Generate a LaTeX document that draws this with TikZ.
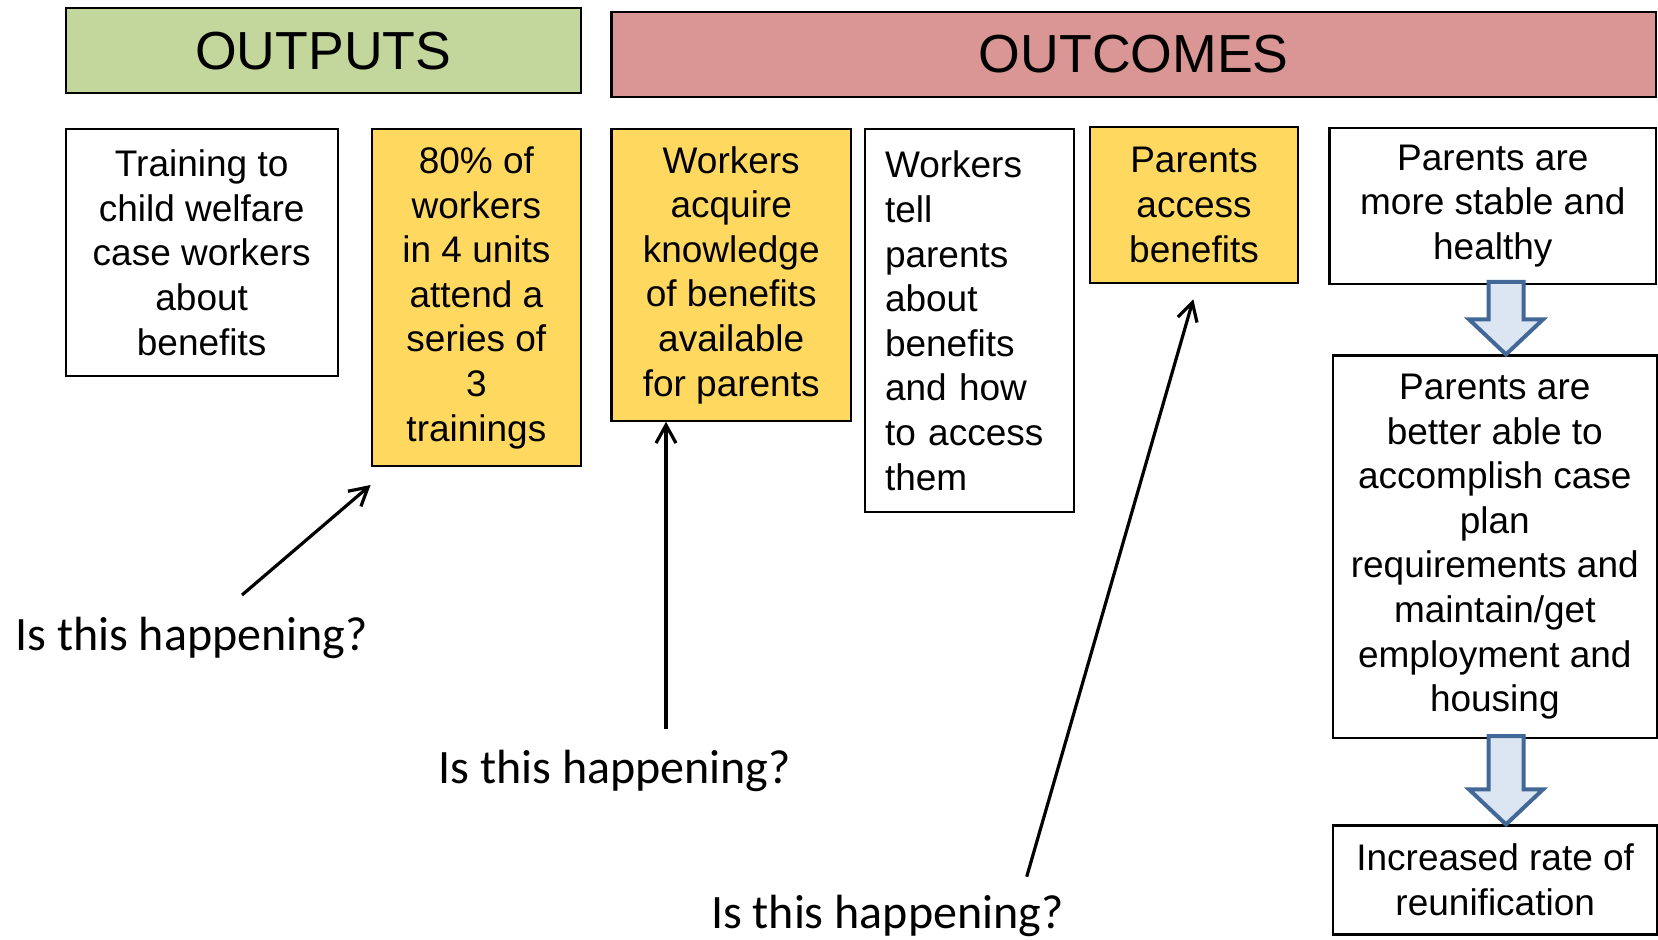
\documentclass[tikz,border=0pt]{standalone}
\usepackage{fontspec}
\setmainfont{Liberation Sans}
\newfontfamily\qfont{Carlito}
\usetikzlibrary{arrows.meta}

\definecolor{outputgreen}{RGB}{195,214,155}
\definecolor{outcomered}{RGB}{217,150,149}
\definecolor{gold}{RGB}{255,216,96}
\definecolor{arrowfill}{RGB}{220,230,242}
\definecolor{arrowline}{RGB}{65,104,150}

\begin{document}
\begin{tikzpicture} [
                x=0.5pt, y=-0.5pt,
                heading/.style={draw,line width=1.1pt,inner sep=0pt,minimum height=42.5pt,
                    font=\fontsize{26.8}{30}\selectfont},
                box/.style={draw,line width=1.1pt,inner sep=0pt,align=center,
                    font=\fontsize{18.5}{22.3}\selectfont},
                goal/.style={box,fill=gold},
                question/.style={inner sep=0pt,anchor=base west,font=\qfont\fontsize{24}{28}\selectfont},
                link/.style={line width=1.6pt,-{Straight Barb[length=9pt,width=10pt,line width=1.6pt]}},
                bigarrow/.style={draw=arrowline,fill=arrowfill,line width=2pt,line join=miter},
            ]
            \useasboundingbox (0,0) rectangle (1658,940);
            % headings
            \node[heading,fill=outputgreen,minimum width=257.5pt] (outputs) at (323.2,50.8) {OUTPUTS};
            \node[heading,fill=outcomered,minimum width=522.3pt] (outcomes) at (1133.7,54.2) {OUTCOMES};
            % boxes
            \node[box,minimum width=136pt,minimum height=123.4pt] (training) at (201.7,252.7)
                {Training to\\child welfare\\case workers\\about\\benefits};
            \node[goal,minimum width=104.4pt,minimum height=168.4pt] (attend) at (476.4,297.7)
                {80\% of\\workers\\in 4 units\\attend a\\series of\\3\\trainings};
            \node[goal,minimum width=119.8pt,minimum height=145.7pt] (acquire) at (731.2,275)
                {Workers\\acquire\\knowledge\\of benefits\\available\\for parents};
            \node[box,align=left,text width=84.5pt,minimum width=104.5pt,minimum height=191.4pt] (tell) at (969.5,320.7)
                {Workers\\tell\\parents\\about\\benefits\\and how\\to access\\them};
            \node[goal,minimum width=104pt,minimum height=77.9pt] (access) at (1194,204.9)
                {Parents\\access\\benefits};
            \node[box,minimum width=163.3pt,minimum height=77.9pt] (stable) at (1492.8,205.9)
                {Parents are\\more stable and\\healthy};
            \node[box,minimum width=161.8pt,minimum height=191.3pt] (better) at (1494.8,546.8)
                {Parents are\\better able to\\accomplish case\\plan\\requirements and\\maintain/get\\employment and\\housing};
            \node[box,minimum width=161.9pt,minimum height=54.5pt] (reunify) at (1495.2,880)
                {Increased rate of\\reunification};
            % questions
            \node[question] (q1) at (15,650) {Is this happening?};
            \node[question] (q2) at (438,783) {Is this happening?};
            \node[question] (q3) at (710.6,928) {Is this happening?};
            \coordinate (q1from) at (242,595);
            \coordinate (q1to) at (370.6,485);
            \coordinate (q2from) at (666,729);
            \coordinate (q3from) at (1026.7,876.7);
            \coordinate (q3to) at (1193.3,299.3);
            \draw[link] (q1from) -- (q1to);
            \draw[link] (q2from) -- (acquire.south -| q2from);
            \draw[link] (q3from) -- (q3to);
            % block arrows
            \foreach \from/\to in {stable/better, better/reunify} {
                \coordinate (top) at (\from.south -| 1506,0);
                \coordinate (tip) at (\to.north -| 1506,0);
                \draw[bigarrow] ([xshift=-8.75pt,yshift=1.5pt]top) -- ([xshift=-8.75pt,yshift=17.5pt]tip)
                    -- ([xshift=-18.5pt,yshift=17.5pt]tip) -- (tip) -- ([xshift=18.5pt,yshift=17.5pt]tip)
                    -- ([xshift=8.75pt,yshift=17.5pt]tip) -- ([xshift=8.75pt,yshift=1.5pt]top) -- cycle;
            }
        \end{tikzpicture}
\end{document}
